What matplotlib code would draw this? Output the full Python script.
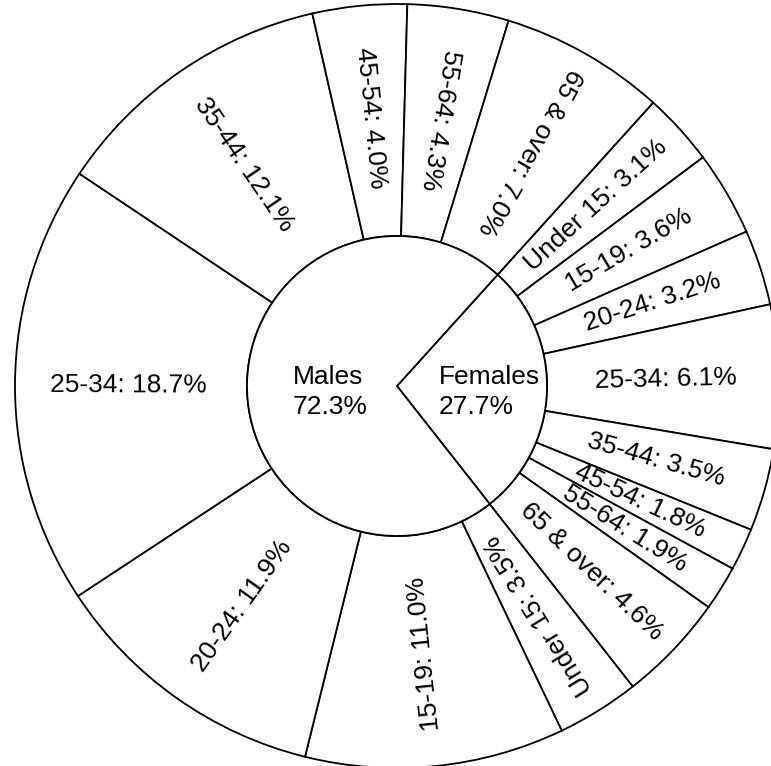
import matplotlib.pyplot as plt
import numpy as np

plt.rcParams['font.family'] = ['Liberation Sans', 'DejaVu Sans']

# inner ring: sex
sex_labels = ['Females', 'Males']
sex_values = [27.7, 72.3]

# outer ring: age groups, females first then males (clockwise)
age_labels = ['Under 15', '15-19', '20-24', '25-34', '35-44', '45-54', '55-64', '65 & over',
              'Under 15', '15-19', '20-24', '25-34', '35-44', '45-54', '55-64', '65 & over']
age_values = [3.1, 3.6, 3.2, 6.1, 3.5, 1.8, 1.9, 4.6,
              3.5, 11.0, 11.9, 18.7, 12.1, 4.0, 4.3, 7.0]
age_sex = ['F'] * 8 + ['M'] * 8

fig = plt.figure(figsize=(7.71, 7.66), dpi=100)
ax = fig.add_axes([0, 0, 1, 1])

R = 382
r_in = 150
fem_frac = sum(age_values[:8]) / sum(age_values) * 360
start = -2 + fem_frac / 2

wp = dict(edgecolor='black', linewidth=1.3)
outer, _ = ax.pie(age_values, radius=R, startangle=start, counterclock=False,
                  colors=['white'] * len(age_values),
                  wedgeprops=dict(width=R - r_in, **wp))
inner, _ = ax.pie(sex_values, radius=r_in, startangle=start, counterclock=False,
                  colors=['white'] * 2, wedgeprops=wp)

r_lab = (R + r_in) / 2 + 3
for w, lab, val, s in zip(outer, age_labels, age_values, age_sex):
    mid = (w.theta1 + w.theta2) / 2
    x = r_lab * np.cos(np.radians(mid))
    y = r_lab * np.sin(np.radians(mid))
    rot = mid if s == 'F' else mid + 180
    ax.text(x, y, f'{lab}: {val}%', rotation=rot, rotation_mode='anchor',
            ha='center', va='center', fontsize=19)

ax.text(-104, -6, f'Males\n{sex_values[1]}%', ha='left', va='center',
        fontsize=19, linespacing=1.3)
ax.text(42, -6, f'Females\n{sex_values[0]}%', ha='left', va='center',
        fontsize=19, linespacing=1.3)

ax.set_xlim(-397, 374)
ax.set_ylim(-380, 386)
ax.set_aspect('equal')
ax.axis('off')

fig.savefig('out.png', dpi=100, facecolor='white')
